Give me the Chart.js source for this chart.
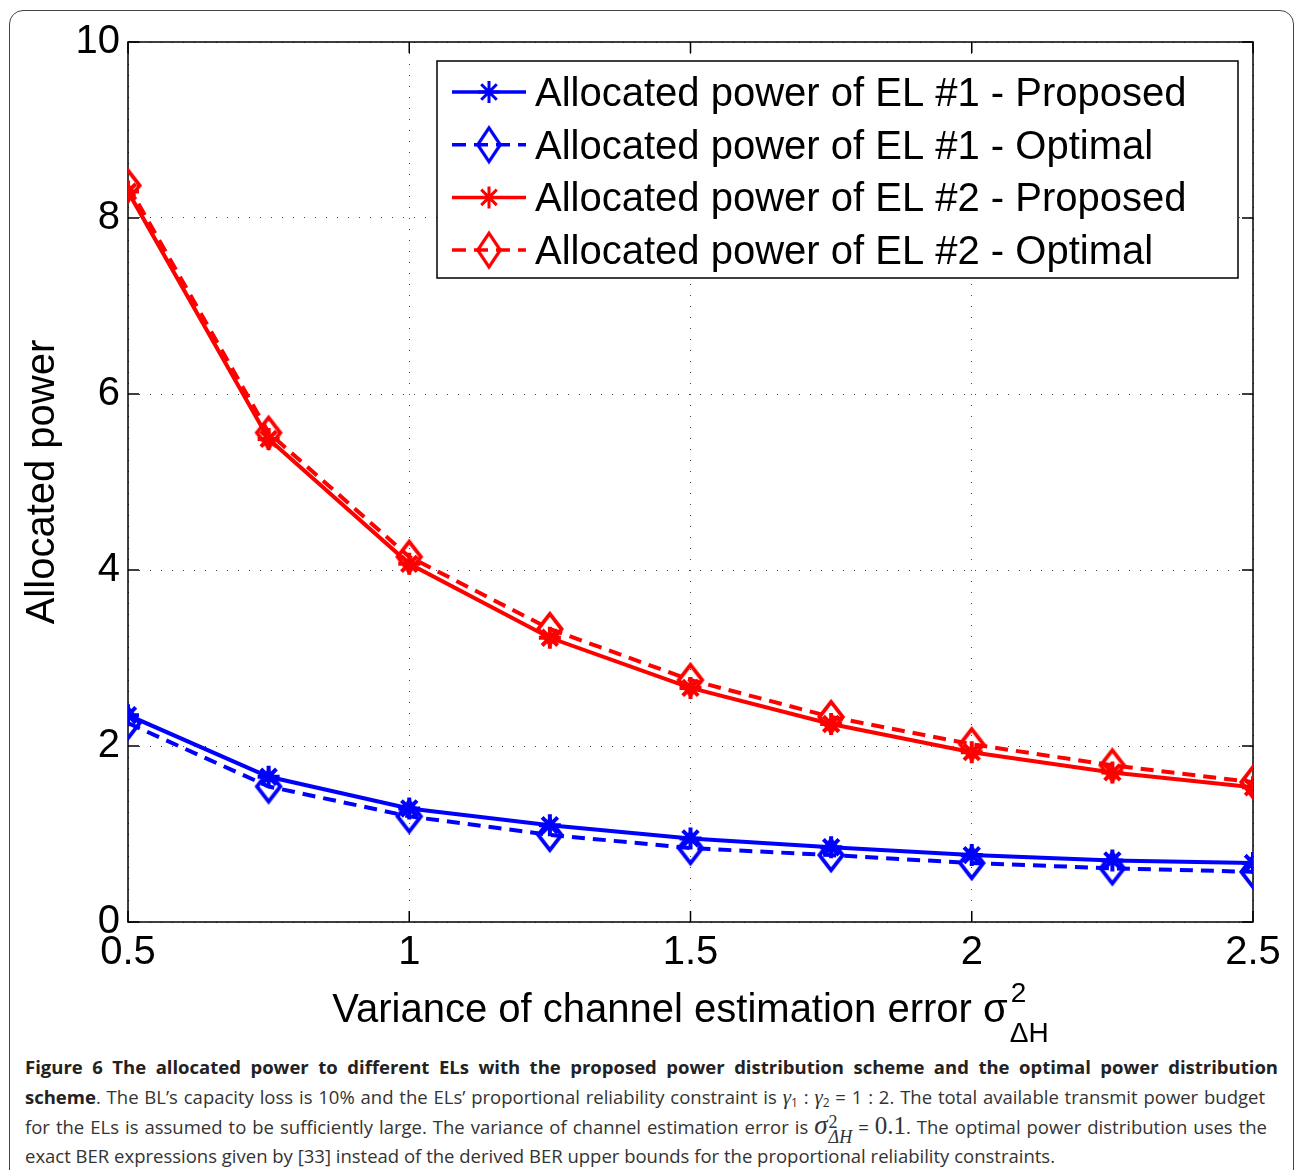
<!DOCTYPE html>
<html>
<head>
<meta charset="utf-8">
<script src="https://cdn.jsdelivr.net/npm/chart.js@4.4.0/dist/chart.umd.min.js"></script>
<style>
  body { margin: 0; background: #fff; width: 1296px; height: 1170px; overflow: hidden; position: relative; }
  #frame { position: absolute; left: 9px; top: 10px; width: 1285px; height: 1250px; border: 1.5px solid #444; border-radius: 14px; box-sizing: border-box; }
  #chart { position: absolute; left: 0; top: 0; }
  #caption { position: absolute; left: 25px; top: 1052px; width: 1253px; font-family: 'Open Sans', sans-serif; font-size: 18.5px; color: #333; }
  #caption .ln { height: 29.5px; line-height: 29.5px; white-space: nowrap; }
  #caption .ln > span { display: inline; }
  #caption b { color: #222; }
  .g { font-family: 'Liberation Serif', serif; font-style: italic; font-size: 21px; }
  .sb { font-size: 12px; vertical-align: -3px; }
  .m { font-family: 'Liberation Serif', serif; }
  .sig { font-style: italic; font-size: 27px; }
  .ss { display: inline-block; vertical-align: -9px; line-height: 15px; font-size: 18px; margin-left: 1px; }
  .ss span { display: block; }
  .num { font-family: 'Liberation Serif', serif; font-size: 25px; }
</style>
</head>
<body>
<div id="frame"></div>
<canvas id="chart" width="1296" height="1050"></canvas>
<div id="caption">
  <div class="ln"><span><b>Figure 6 The allocated power to different ELs with the proposed power distribution scheme and the optimal power distribution</b></span></div>
  <div class="ln"><span><b>scheme</b>. The BL’s capacity loss is 10% and the ELs’ proportional reliability constraint is <span class="g">γ</span><span class="sb">1</span> : <span class="g">γ</span><span class="sb">2</span> = 1 : 2. The total available transmit power budget</span></div>
  <div class="ln"><span>for the ELs is assumed to be sufficiently large. The variance of channel estimation error is <span class="m"><span class="sig">σ</span><span class="ss"><span>2</span><span><i>ΔH</i></span></span></span> = <span class="num">0.1</span>. The optimal power distribution uses the</span></div>
  <div class="ln"><span>exact BER expressions given by [33] instead of the derived BER upper bounds for the proportional reliability constraints.</span></div>
</div>
<script>
// datos
const xValues = [0.5, 0.75, 1, 1.25, 1.5, 1.75, 2, 2.25, 2.5];
const el1Proposed = [2.35, 1.65, 1.29, 1.10, 0.95, 0.85, 0.76, 0.70, 0.67];
const el1Optimal = [2.26, 1.54, 1.20, 0.99, 0.84, 0.76, 0.67, 0.61, 0.57];
const el2Proposed = [8.30, 5.49, 4.07, 3.23, 2.66, 2.25, 1.93, 1.70, 1.53];
const el2Optimal = [8.37, 5.56, 4.15, 3.33, 2.75, 2.33, 2.02, 1.78, 1.59];
const seriesLabels = [
  'Allocated power of EL #1 - Proposed',
  'Allocated power of EL #1 - Optimal',
  'Allocated power of EL #2 - Proposed',
  'Allocated power of EL #2 - Optimal'
];
const xTickLabels = ['0.5', '1', '1.5', '2', '2.5'];
const yTickLabels = ['0', '2', '4', '6', '8', '10'];
const yTitle = 'Allocated power';
const xTitle = 'Variance of channel estimation error σ';

const FONT = '"Liberation Sans", Arial, sans-serif';
const BLUE = '#0000ff';
const RED = '#ff0000';

function diamond(color, w, h, lw) {
  const c = document.createElement('canvas');
  c.width = w; c.height = h;
  const g = c.getContext('2d');
  g.strokeStyle = color; g.lineWidth = lw;
  const hw = w / 2 - lw - 0.5, hh = h / 2 - lw - 1;
  g.beginPath();
  g.moveTo(w / 2, h / 2 - hh);
  g.lineTo(w / 2 + hw, h / 2);
  g.lineTo(w / 2, h / 2 + hh);
  g.lineTo(w / 2 - hw, h / 2);
  g.closePath();
  g.stroke();
  return c;
}

function pts(arr) {
  return xValues.map((x, i) => ({ x: x, y: arr[i] }));
}

function serie(label, data, color, dashed) {
  return {
    label: label,
    data: pts(data),
    borderColor: color,
    backgroundColor: color,
    borderWidth: 4,
    borderDash: dashed ? [13, 8] : [],
    pointStyle: dashed ? diamond(color, 32, 40, 3.8) : 'star',
    pointRadius: dashed ? 14 : 11,
    pointBorderWidth: 4,
    pointBorderColor: color,
    tension: 0,
    fill: false,
    legendDashed: dashed
  };
}

// caja, ticks hacia dentro, leyenda y titulo del eje x
const matlabAxes = {
  id: 'matlabAxes',
  beforeDatasetsDraw(chart) {
    const { ctx, chartArea: a, scales: { x, y } } = chart;
    ctx.save();
    ctx.strokeStyle = '#000';
    ctx.lineWidth = 1.5;
    ctx.strokeRect(a.left, a.top, a.right - a.left, a.bottom - a.top);
    ctx.beginPath();
    x.ticks.forEach(t => {
      const px = x.getPixelForValue(t.value);
      ctx.moveTo(px, a.bottom); ctx.lineTo(px, a.bottom - 11);
      ctx.moveTo(px, a.top); ctx.lineTo(px, a.top + 11);
    });
    y.ticks.forEach(t => {
      const py = y.getPixelForValue(t.value);
      ctx.moveTo(a.left, py); ctx.lineTo(a.left + 11, py);
      ctx.moveTo(a.right, py); ctx.lineTo(a.right - 11, py);
    });
    ctx.stroke();
    ctx.restore();
  },
  afterDraw(chart) {
    const { ctx, chartArea: a } = chart;
    ctx.save();
    // leyenda
    const lx = 437, ly = 61, lw = 801, lh = 217;
    ctx.fillStyle = '#fff';
    ctx.fillRect(lx, ly, lw, lh);
    ctx.strokeStyle = '#000';
    ctx.lineWidth = 1.5;
    ctx.strokeRect(lx, ly, lw, lh);
    ctx.font = '40px ' + FONT;
    ctx.textBaseline = 'alphabetic';
    ctx.textAlign = 'left';
    chart.data.datasets.forEach((ds, i) => {
      const cy = 92 + i * 52.7;
      ctx.strokeStyle = ds.borderColor;
      ctx.lineWidth = 3.5;
      ctx.setLineDash(ds.legendDashed ? [14, 8] : []);
      ctx.beginPath();
      ctx.moveTo(452, cy); ctx.lineTo(526, cy);
      ctx.stroke();
      ctx.setLineDash([]);
      if (ds.legendDashed) {
        ctx.drawImage(diamond(ds.borderColor, 30, 42, 3.2), 489 - 15, cy - 21);
      } else {
        ctx.lineWidth = 3;
        ctx.beginPath();
        for (let k = 0; k < 4; k++) {
          const ang = k * Math.PI / 4;
          ctx.moveTo(489 - 11 * Math.cos(ang), cy - 11 * Math.sin(ang));
          ctx.lineTo(489 + 11 * Math.cos(ang), cy + 11 * Math.sin(ang));
        }
        ctx.stroke();
      }
      ctx.fillStyle = '#000';
      ctx.fillText(ds.label, 535, cy + 14);
    });
    // titulo del eje x con super y subindice
    ctx.font = '40px ' + FONT;
    const wMain = ctx.measureText(xTitle).width;
    ctx.font = '28px ' + FONT;
    const wSmall = Math.max(ctx.measureText('2').width, ctx.measureText('ΔH').width);
    const start = (a.left + a.right) / 2 - (wMain + wSmall) / 2 - 1;
    ctx.fillStyle = '#000';
    ctx.font = '40px ' + FONT;
    ctx.fillText(xTitle, start, 1022);
    ctx.font = '28px ' + FONT;
    ctx.fillText('2', start + wMain + 3, 1002);
    ctx.fillText('ΔH', start + wMain + 2, 1042);
    ctx.restore();
  }
};

new Chart(document.getElementById('chart'), {
  type: 'line',
  data: {
    datasets: [
      serie(seriesLabels[0], el1Proposed, BLUE, false),
      serie(seriesLabels[1], el1Optimal, BLUE, true),
      serie(seriesLabels[2], el2Proposed, RED, false),
      serie(seriesLabels[3], el2Optimal, RED, true)
    ]
  },
  options: {
    responsive: false,
    animation: false,
    events: [],
    layout: { padding: { left: 0, top: 42, right: 43, bottom: 0 } },
    plugins: { legend: { display: false }, tooltip: { enabled: false } },
    scales: {
      x: {
        type: 'linear',
        min: 0.5,
        max: 2.5,
        ticks: {
          stepSize: 0.5,
          padding: 7,
          color: '#000',
          font: { family: FONT, size: 40 },
          maxRotation: 0,
          callback: (v, i) => xTickLabels[i]
        },
        grid: { color: '#444', lineWidth: 1, drawTicks: false },
        border: { display: false, dash: [1, 10] },
        afterFit: s => { s.height = 128; }
      },
      y: {
        min: 0,
        max: 10,
        ticks: {
          stepSize: 2,
          padding: 8,
          color: '#000',
          font: { family: FONT, size: 40 },
          callback: (v, i) => yTickLabels[i]
        },
        grid: { color: '#444', lineWidth: 1, drawTicks: false },
        border: { display: false, dash: [1, 10] },
        title: {
          display: true,
          text: yTitle,
          color: '#000',
          font: { family: FONT, size: 40 },
          padding: { top: 19, bottom: 0 }
        },
        afterFit: s => { s.width = 128; }
      }
    }
  },
  plugins: [matlabAxes]
});

// justificar las lineas del pie de figura
const targets = [1253, 1240, 1242];
document.querySelectorAll('#caption .ln').forEach((ln, i) => {
  if (i >= targets.length) return;
  const span = ln.firstElementChild;
  const w = span.getBoundingClientRect().width;
  const spaces = (span.textContent.replace(/\s+/g, ' ').trim().match(/ /g) || []).length;
  ln.style.wordSpacing = ((targets[i] - w) / spaces) + 'px';
});
</script>
</body>
</html>
